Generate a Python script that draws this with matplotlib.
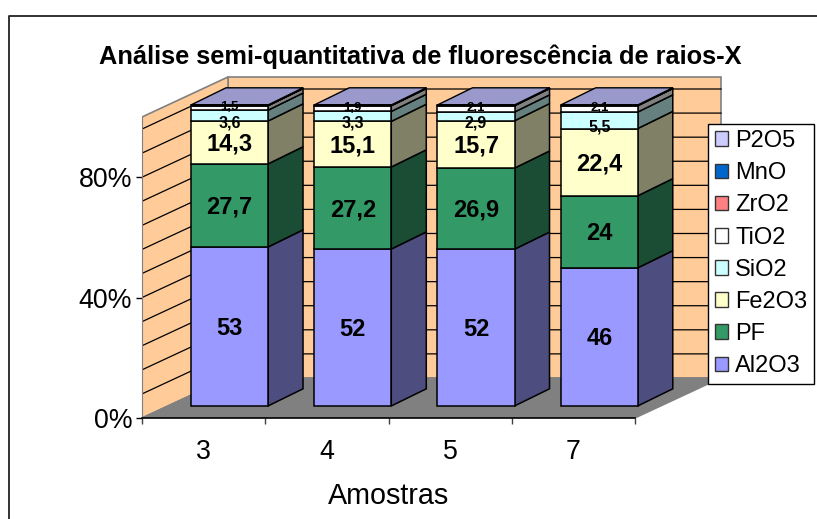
import numpy as np
import matplotlib
matplotlib.use('Agg')
import matplotlib.pyplot as plt
from matplotlib.patches import Polygon, Patch
from matplotlib.colors import to_rgb
from matplotlib.lines import Line2D

plt.rcParams['font.family'] = ['Liberation Sans', 'DejaVu Sans']

# dados
amostras = ['3', '4', '5', '7']
series = ['Al2O3', 'PF', 'Fe2O3', 'SiO2', 'TiO2', 'ZrO2', 'MnO', 'P2O5']
al2o3 = [53, 52, 52, 46]
pf = [27.7, 27.2, 26.9, 24]
fe2o3 = [14.3, 15.1, 15.7, 22.4]
sio2 = [3.6, 3.3, 2.9, 5.5]
tio2 = [1.5, 1.9, 2.1, 2.1]
zro2 = [0.1, 0.1, 0.1, 0.1]
mno = [0.05, 0.05, 0.05, 0.05]
p2o5 = [0.1, 0.1, 0.1, 0.1]
cores = ['#9999FF', '#339966', '#FFFFCC', '#CCFFFF', '#FFFFFF', '#FF8080', '#0066CC', '#CCCCFF']

valores = np.array([al2o3, pf, fe2o3, sio2, tio2, zro2, mno, p2o5], dtype=float)
pct = valores / valores.sum(axis=0) * 100

W, H = 817, 519
fig = plt.figure(figsize=(W / 100, H / 100), dpi=100)
ax_l, ax_r, ax_b, ax_t = 142, 722, 418, 76
ax = fig.add_axes([ax_l / W, 1 - ax_b / H, (ax_r - ax_l) / W, (ax_b - ax_t) / H])
ax.set_xlim(-0.5, -0.5 + (ax_r - ax_l) / 123.25)
ax.set_ylim(0, (ax_b - ax_t) / 3.01)
ax.patch.set_alpha(0)

# profundidade da caixa (em unidades de dados)
dx, dy = 0.698, 13.3
x0, x1 = -0.5, 3.5

ax.add_patch(Polygon([(x0 + dx, dy), (x1 + dx, dy), (x1 + dx, 100 + dy), (x0 + dx, 100 + dy)],
                     fc='#FFCC99', ec='#808080', lw=1.2, zorder=1))
ax.add_patch(Polygon([(x0, 0), (x0 + dx, dy), (x0 + dx, 100 + dy), (x0, 100)],
                     fc='#FFCC99', ec='#808080', lw=1.2, zorder=1))
ax.add_patch(Polygon([(x0, 0), (x1, 0), (x1 + dx, dy), (x0 + dx, dy)],
                     fc='#808080', ec='#808080', lw=1, zorder=2))

for g in np.arange(8, 100, 8):
    ax.plot([x0, x0 + dx, x1 + dx], [g, g + dy, g + dy], color='black', lw=0.9, zorder=1.5)

# barras
larg = 0.625
sx, sy = 0.21, 4.0      # deslocamento da barra dentro da caixa
bx, by = 0.284, 5.7     # profundidade da barra
pos = np.arange(len(amostras)) + sx

base = np.zeros(len(amostras))
for i, nome in enumerate(series):
    rgb = np.array(to_rgb(cores[i]))
    ax.bar(pos, pct[i], larg, bottom=base + sy, color=cores[i], edgecolor='black', lw=1.1, zorder=4)
    for p, b, h in zip(pos, base, pct[i]):
        xr = p + larg / 2
        ax.add_patch(Polygon([(xr, b + sy), (xr + bx, b + sy + by), (xr + bx, b + h + sy + by), (xr, b + h + sy)],
                             fc=rgb * 0.5, ec='black', lw=1.1, zorder=3.5))
    base = base + pct[i]

for p in pos:
    xl, xr = p - larg / 2, p + larg / 2
    ax.add_patch(Polygon([(xl, 100 + sy), (xr, 100 + sy), (xr + bx, 100 + sy + by), (xl + bx, 100 + sy + by)],
                         fc='#9999CC', ec='black', lw=1, zorder=3.5))

# rótulos de dados
def rotulo(v):
    return f'{v:g}'.replace('.', ',')

tam = [17, 17, 17, 11.5, 9.5]
ajuste = [-0.6, -0.6, -0.6, -2.3, 0.2]
base = np.zeros(len(amostras))
for i in range(5):
    for j, p in enumerate(pos):
        ax.text(p, base[j] + pct[i][j] / 2 + sy + ajuste[i], rotulo(valores[i][j]), ha='center', va='center',
                fontsize=tam[i], fontweight='bold', color='black', zorder=6)
    base = base + pct[i]

# eixos
for s in ['top', 'right']:
    ax.spines[s].set_visible(False)
ax.spines['left'].set_bounds(0, 100)
ax.spines['left'].set_color('#808080')
ax.spines['bottom'].set_bounds(x0, x1)
ax.spines['bottom'].set_linewidth(1.2)
ax.spines['left'].set_zorder(2.5)
ax.spines['bottom'].set_zorder(2.5)
ax.set_xticks(np.arange(len(amostras)), amostras, fontsize=19.3)
ax.set_xticks(np.arange(len(amostras) + 1) - 0.5, minor=True)
ax.tick_params(axis='x', which='major', length=0, pad=15)
ax.tick_params(axis='x', which='minor', length=4.5, width=1, color='#404040')
ax.set_yticks([0, 40, 80], ['0%', '40%', '80%'], fontsize=19.3)
ax.tick_params(axis='y', length=4.5, width=1, pad=2.5)
ax.set_xlabel('Amostras', fontsize=20.7)
ax.xaxis.set_label_coords((389 - ax_l) / (ax_r - ax_l), -(482 - ax_b) / (ax_b - ax_t), transform=ax.transAxes)

fig.text(420 / W, 1 - 57 / H, 'Análise semi-quantitativa de fluorescência de raios-X',
         ha='center', va='center', fontsize=18.3, fontweight='bold')

# legenda
handles = [Patch(facecolor=c, edgecolor='#333333', lw=1) for c in cores[::-1]]
leg = fig.legend(handles, series[::-1], loc='upper left',
                 bbox_to_anchor=(708 / W, 1 - 123.5 / H), bbox_transform=fig.transFigure,
                 fontsize=17, frameon=True, fancybox=False, framealpha=1, edgecolor='black',
                 borderaxespad=0, borderpad=0.28, handlelength=0.58, handleheight=0.58,
                 handletextpad=0.3, labelspacing=0.43)
leg.get_frame().set_linewidth(1)
leg.set_zorder(10)

# moldura (só esquerda e topo aparecem no recorte)
fig.add_artist(Line2D([8.5 / W, 8.5 / W, 1], [0, 1 - 15.5 / H, 1 - 15.5 / H], color='#222222', lw=1.3))

fig.savefig('out.png', dpi=100)
